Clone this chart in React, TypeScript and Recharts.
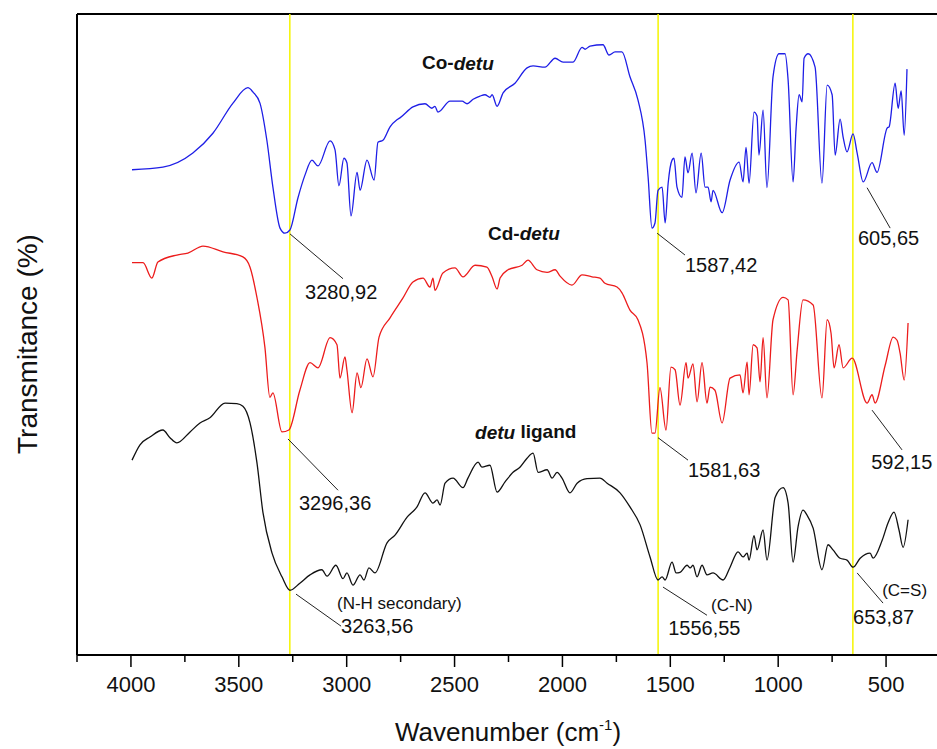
import React from "react";
import {
  Line,
  LineChart,
  ReferenceDot,
  ReferenceLine,
  XAxis,
  YAxis,
  Label,
} from "recharts";

// Co-detu (blue), wavenumber in cm-1 and transmittance (offset, %)
const coWave = [
  3995, 3852, 3713, 3620, 3527, 3458, 3434, 3402, 3370, 3342, 3309, 3286, 3263,
  3226, 3193, 3161, 3133, 3077, 3054, 3036, 3013, 2999, 2980, 2952, 2938, 2906,
  2873, 2855, 2832, 2799, 2767, 2753, 2693, 2637, 2605, 2591, 2577, 2521, 2465,
  2442, 2414, 2382, 2359, 2336, 2326, 2303, 2275, 2220, 2164, 2136, 2081, 2034,
  1997, 1951, 1909, 1895, 1872, 1812, 1784, 1756, 1724, 1687, 1650, 1617, 1603,
  1585, 1571, 1557, 1538, 1524, 1510, 1492, 1483, 1469, 1446, 1432, 1418, 1399,
  1381, 1357, 1339, 1325, 1311, 1302, 1260, 1223, 1181, 1163, 1149, 1135, 1112,
  1098, 1089, 1070, 1052, 1024, 996, 968, 954, 931, 917, 903, 889, 880, 861, 829,
  797, 773, 750, 736, 713, 699, 681, 653, 634, 606, 565, 542, 495, 486, 458, 444,
  430, 416, 403,
];
const coTrans = [
  75.7, 76.1, 78.3, 81.4, 86.1, 88.5, 87.8, 86.1, 80.3, 73.0, 66.6, 65.8, 66.3,
  71.3, 74.9, 77.2, 76.3, 80.2, 78.8, 73.2, 77.5, 76.8, 68.5, 75.3, 72.5, 77.2,
  74.1, 80.0, 80.3, 82.4, 83.5, 83.8, 85.5, 86.0, 85.3, 85.6, 84.7, 86.4, 86.4,
  86.0, 86.7, 87.2, 87.4, 87.0, 87.4, 85.6, 87.7, 89.2, 91.6, 91.9, 91.7, 93.1,
  92.5, 92.5, 94.8, 94.5, 95.0, 95.2, 93.6, 94.1, 94.1, 90.2, 86.6, 80.3, 74.6,
  66.6, 67.4, 72.5, 73.0, 67.4, 73.6, 77.2, 77.5, 73.0, 71.4, 77.7, 75.2, 78.3,
  72.1, 78.3, 73.0, 73.0, 70.7, 72.5, 69.0, 74.1, 76.9, 73.8, 79.2, 73.6, 84.7,
  84.1, 78.0, 85.0, 72.9, 90.2, 93.8, 93.8, 89.7, 73.8, 82.2, 87.4, 86.3, 93.1,
  93.8, 91.7, 73.6, 88.9, 87.4, 78.0, 83.6, 80.8, 78.5, 81.3, 78.3, 73.8, 76.8,
  75.3, 82.2, 82.4, 89.2, 85.3, 88.0, 81.1, 91.4,
];

// Cd-detu (red)
const cdWave = [
  3995, 3944, 3903, 3875, 3787, 3736, 3666, 3573, 3481, 3448, 3416, 3379, 3356,
  3342, 3300, 3268, 3217, 3170, 3133, 3077, 3045, 3031, 3008, 2999, 2975, 2952,
  2934, 2906, 2878, 2850, 2799, 2739, 2693, 2646, 2614, 2600, 2591, 2554, 2498,
  2461, 2405, 2350, 2326, 2303, 2289, 2252, 2187, 2160, 2118, 2071, 2034, 2011,
  1956, 1909, 1863, 1826, 1803, 1747, 1724, 1687, 1650, 1608, 1585, 1571, 1548,
  1520, 1497, 1478, 1455, 1427, 1418, 1395, 1376, 1353, 1330, 1316, 1293, 1260,
  1223, 1177, 1163, 1144, 1135, 1116, 1098, 1084, 1070, 1052, 1024, 977, 954,
  931, 912, 885, 838, 797, 773, 755, 741, 718, 699, 657, 588, 565, 551, 504, 467,
  449, 435, 416, 398,
];
const cdTrans = [
  61.2, 61.2, 58.8, 61.3, 62.4, 62.7, 63.8, 62.9, 62.1, 60.5, 55.8, 48.0, 40.2,
  40.9, 34.8, 35.1, 41.3, 45.6, 44.8, 49.5, 48.4, 43.2, 46.5, 44.5, 37.8, 44.0,
  41.7, 46.2, 43.4, 49.6, 52.6, 55.7, 58.2, 58.8, 57.4, 58.8, 56.9, 59.6, 60.4,
  59.0, 60.8, 60.5, 59.0, 57.1, 58.8, 60.1, 60.8, 61.6, 60.1, 59.7, 60.1, 59.1,
  57.7, 59.3, 59.0, 58.8, 58.0, 57.4, 56.5, 53.8, 52.3, 45.6, 34.6, 34.6, 41.7,
  35.1, 44.9, 44.5, 39.0, 45.6, 43.2, 45.4, 39.5, 45.6, 39.3, 41.8, 41.3, 36.2,
  43.2, 43.7, 40.9, 45.7, 40.6, 48.4, 47.9, 42.6, 49.5, 40.1, 52.3, 55.8, 55.4,
  40.6, 47.6, 55.4, 54.6, 40.1, 52.3, 50.2, 44.8, 48.4, 44.8, 46.3, 39.3, 40.6,
  39.3, 45.2, 49.6, 49.1, 47.1, 42.9, 51.8,
];

// detu ligand (black)
const ligWave = [
  3995, 3958, 3912, 3852, 3819, 3787, 3726, 3680, 3634, 3564, 3509, 3481, 3448,
  3416, 3388, 3346, 3300, 3263, 3217, 3170, 3115, 3091, 3050, 3017, 2999, 2971,
  2938, 2920, 2897, 2869, 2813, 2776, 2720, 2674, 2637, 2600, 2581, 2567, 2544,
  2507, 2461, 2438, 2391, 2373, 2336, 2303, 2266, 2229, 2197, 2164, 2136, 2113,
  2071, 2048, 2025, 2002, 1965, 1932, 1886, 1826, 1793, 1733, 1687, 1640, 1594,
  1557, 1538, 1524, 1492, 1473, 1455, 1422, 1408, 1395, 1376, 1353, 1330, 1302,
  1255, 1223, 1186, 1163, 1144, 1135, 1112, 1098, 1070, 1052, 1014, 977, 954,
  931, 908, 885, 866, 838, 797, 769, 746, 713, 681, 653, 620, 574, 560, 518, 491,
  463, 440, 421, 398,
];
const ligTrans = [
  30.4, 32.8, 34.0, 35.1, 33.9, 33.1, 34.8, 36.2, 37.0, 39.3, 39.2, 38.8, 36.2,
  30.0, 22.2, 15.9, 12.2, 10.1, 11.2, 12.5, 13.3, 12.3, 14.0, 11.9, 12.8, 10.9,
  12.5, 11.7, 13.6, 12.8, 17.5, 18.7, 21.5, 23.1, 25.3, 23.7, 24.2, 23.4, 26.8,
  27.6, 26.1, 27.6, 30.1, 29.3, 29.6, 25.4, 27.0, 28.5, 29.3, 30.7, 31.5, 28.5,
  28.9, 27.6, 28.5, 27.6, 25.3, 26.8, 27.5, 27.6, 26.8, 25.3, 23.1, 20.3, 15.3,
  11.7, 12.2, 11.7, 14.5, 12.8, 12.9, 14.0, 13.6, 14.0, 12.2, 14.0, 12.5, 12.8,
  11.7, 13.7, 16.1, 15.3, 15.9, 14.8, 18.6, 16.4, 19.5, 14.8, 24.6, 26.1, 23.7,
  14.5, 20.0, 22.6, 21.8, 19.8, 13.3, 17.2, 16.4, 15.1, 14.8, 13.7, 15.1, 15.9,
  15.1, 17.9, 20.6, 22.3, 19.5, 16.8, 21.1,
];

const xTicks = [
  4250, 4000, 3750, 3500, 3250, 3000, 2750, 2500, 2250, 2000, 1750, 1500, 1250,
  1000, 750, 500, 250,
];

// marked band positions (yellow guides)
const guideBands = [3263.56, 1556.55, 653.87];

// peak labels: [text, wavenumber, transmittance]
const peakLabels: [string, number, number][] = [
  ["3280,92", 3193, 56.6],
  ["1587,42", 1432, 60.8],
  ["605,65", 630, 65.1],
  ["3296,36", 3221, 23.7],
  ["1581,63", 1418, 28.9],
  ["592,15", 569, 30.1],
  ["3263,56", 3026, 4.5],
  ["1556,55", 1510, 4.2],
  ["653,87", 653, 5.9],
];
const bandNotes: [string, number, number][] = [
  ["(N-H secondary)", 3045, 8.0],
  ["(C-N)", 1311, 7.8],
  ["(C=S)", 518, 10.1],
];
// leader lines: [w1, t1, w2, t2]
const leaders: [number, number, number, number][] = [
  [3263, 65.7, 3017, 58.7],
  [1561, 65.8, 1432, 62.4],
  [588, 72.9, 481, 66.6],
  [3272, 33.7, 3040, 25.7],
  [1557, 33.9, 1418, 30.4],
  [565, 38.2, 426, 32.0],
  [3235, 9.5, 3026, 4.5],
  [1534, 10.6, 1330, 6.2],
  [634, 12.8, 514, 8.1],
];
// sample names: [prefix, italic part, suffix, wavenumber, transmittance]
const sampleNames: [string, string, string, number, number][] = [
  ["Co-", "detu", "", 2651, 92.4],
  ["Cd-", "detu", "", 2345, 65.8],
  ["", "detu", " ligand", 2405, 34.8],
];

const toPoints = (w: number[], t: number[]) =>
  w.map((x, i) => ({ w: x, t: t[i] }));

const coData = toPoints(coWave, coTrans);
const cdData = toPoints(cdWave, cdTrans);
const ligData = toPoints(ligWave, ligTrans);

const FONT = "'Liberation Sans', Arial, sans-serif";

const WaveTick = ({ x, y, payload }: any) => {
  const major = payload.value % 500 === 0;
  return (
    <g>
      <line
        x1={x}
        x2={x}
        y1={y}
        y2={y + (major ? 12 : 7)}
        stroke="#000"
        strokeWidth={1.5}
      />
      {major && payload.value >= 500 && payload.value <= 4000 && (
        <text
          x={x}
          y={y + 37}
          textAnchor="middle"
          fontSize={22}
          fontFamily={FONT}
          fill="#111"
        >
          {payload.value}
        </text>
      )}
    </g>
  );
};

const XTitle = () => (
  <text
    x={508}
    y={741}
    textAnchor="middle"
    fontSize={26}
    fontFamily={FONT}
    fill="#111"
  >
    Wavenumber (cm
    <tspan fontSize={15} dy={-11}>
      -1
    </tspan>
    <tspan dy={11}>)</tspan>
  </text>
);

const YTitle = () => (
  <text
    x={27}
    y={344}
    transform="rotate(-90, 27, 344)"
    textAnchor="middle"
    dominantBaseline="central"
    fontSize={28}
    fontFamily={FONT}
    fill="#111"
  >
    Transmitance (%)
  </text>
);

const makeText =
  (text: string, size: number) =>
  ({ cx, cy }: any) => (
    <text
      x={cx}
      y={cy}
      dominantBaseline="central"
      fontSize={size}
      fontFamily={FONT}
      fill="#111"
    >
      {text}
    </text>
  );

const makeName =
  (pre: string, it: string, post: string) =>
  ({ cx, cy }: any) => (
    <text
      x={cx}
      y={cy}
      dominantBaseline="central"
      fontSize={19}
      fontWeight="bold"
      fontFamily={FONT}
      fill="#111"
    >
      {pre}
      <tspan fontStyle="italic">{it}</tspan>
      {post}
    </text>
  );

export default function App() {
  return (
    <div
      style={{
        position: "absolute",
        left: 0,
        top: 0,
        width: 937,
        height: 749,
        overflow: "hidden",
        background: "#fff",
      }}
    >
      <LineChart
        width={950}
        height={749}
        margin={{ top: 14, right: 10, left: 0, bottom: 0 }}
      >
        <XAxis
          dataKey="w"
          type="number"
          domain={[250, 4250]}
          reversed
          allowDataOverflow
          ticks={xTicks}
          interval={0}
          height={94}
          axisLine={{ stroke: "#000", strokeWidth: 2 }}
          tickLine={false}
          tickSize={0}
          tickMargin={0}
          tick={<WaveTick />}
        >
          <Label content={<XTitle />} />
        </XAxis>
        <YAxis
          type="number"
          domain={[0, 100]}
          allowDataOverflow
          width={77}
          tick={false}
          tickLine={false}
          axisLine={{ stroke: "#000", strokeWidth: 2 }}
        >
          <Label content={<YTitle />} />
        </YAxis>
        <ReferenceLine y={100} stroke="#000" strokeWidth={2} />
        <ReferenceLine x={250} stroke="#000" strokeWidth={2} />
        {guideBands.map((b) => (
          <ReferenceLine key={b} x={b} stroke="#f5f500" strokeWidth={1.5} />
        ))}
        <Line
          data={coData}
          dataKey="t"
          type="monotone"
          stroke="#1e1ee6"
          strokeWidth={1.3}
          dot={false}
          isAnimationActive={false}
        />
        <Line
          data={cdData}
          dataKey="t"
          type="monotone"
          stroke="#ec1c1c"
          strokeWidth={1.3}
          dot={false}
          isAnimationActive={false}
        />
        <Line
          data={ligData}
          dataKey="t"
          type="monotone"
          stroke="#111"
          strokeWidth={1.3}
          dot={false}
          isAnimationActive={false}
        />
        {leaders.map(([w1, t1, w2, t2], i) => (
          <ReferenceLine
            key={"l" + i}
            segment={[
              { x: w1, y: t1 },
              { x: w2, y: t2 },
            ]}
            stroke="#222"
            strokeWidth={1}
          />
        ))}
        {peakLabels.map(([text, w, t]) => (
          <ReferenceDot
            key={text}
            x={w}
            y={t}
            r={1}
            shape={makeText(text, 20)}
          />
        ))}
        {bandNotes.map(([text, w, t]) => (
          <ReferenceDot
            key={text}
            x={w}
            y={t}
            r={1}
            shape={makeText(text, 17)}
          />
        ))}
        {sampleNames.map(([pre, it, post, w, t]) => (
          <ReferenceDot
            key={pre + post}
            x={w}
            y={t}
            r={1}
            shape={makeName(pre, it, post)}
          />
        ))}
      </LineChart>
    </div>
  );
}
